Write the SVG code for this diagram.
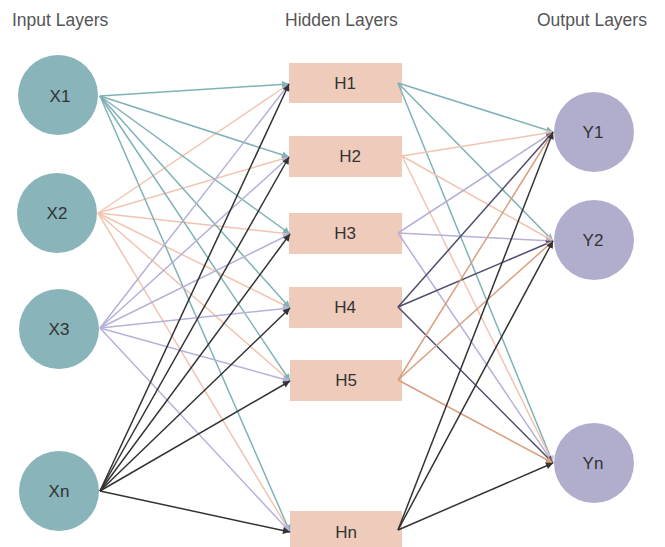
<svg xmlns="http://www.w3.org/2000/svg" width="665" height="547" viewBox="0 0 665 547">
<style>
.hdr{font-family:"Liberation Sans",Arial,sans-serif;font-size:17.5px;fill:#555}
.lbl{font-family:"Liberation Sans",Arial,sans-serif;font-size:17px;fill:#333;text-anchor:middle;dominant-baseline:central}
.in{fill:#88b4ba}
.out{fill:#b1aecd}
.hid{fill:#efcbbb}
line{stroke-width:1.5;fill:none}
.teal{stroke:#7fb2b6;marker-end:url(#a-teal)}
.sal{stroke:#f2c4b0;marker-end:url(#a-sal)}
.lav{stroke:#b5b1d9;marker-end:url(#a-lav)}
.dark{stroke:#333;marker-end:url(#a-dark)}
.navy{stroke:#4f4d6e;marker-end:url(#a-navy)}
.org{stroke:#d9a07f;marker-end:url(#a-org)}
</style>
<defs>
<marker id="a-teal" viewBox="0 0 10 10" refX="10" refY="5" markerWidth="8" markerHeight="7" markerUnits="userSpaceOnUse" orient="auto"><path d="M0,0 L10,5 L0,10 z" fill="#7fb2b6"/></marker>
<marker id="a-sal" viewBox="0 0 10 10" refX="10" refY="5" markerWidth="8" markerHeight="7" markerUnits="userSpaceOnUse" orient="auto"><path d="M0,0 L10,5 L0,10 z" fill="#f2c4b0"/></marker>
<marker id="a-lav" viewBox="0 0 10 10" refX="10" refY="5" markerWidth="8" markerHeight="7" markerUnits="userSpaceOnUse" orient="auto"><path d="M0,0 L10,5 L0,10 z" fill="#b5b1d9"/></marker>
<marker id="a-dark" viewBox="0 0 10 10" refX="10" refY="5" markerWidth="8" markerHeight="7" markerUnits="userSpaceOnUse" orient="auto"><path d="M0,0 L10,5 L0,10 z" fill="#333"/></marker>
<marker id="a-navy" viewBox="0 0 10 10" refX="10" refY="5" markerWidth="8" markerHeight="7" markerUnits="userSpaceOnUse" orient="auto"><path d="M0,0 L10,5 L0,10 z" fill="#4f4d6e"/></marker>
<marker id="a-org" viewBox="0 0 10 10" refX="10" refY="5" markerWidth="8" markerHeight="7" markerUnits="userSpaceOnUse" orient="auto"><path d="M0,0 L10,5 L0,10 z" fill="#d9a07f"/></marker>
</defs>
<rect width="665" height="547" fill="#fff"/>
<g id="headers">
<text class="hdr" x="12" y="26">Input Layers</text>
<text class="hdr" x="285" y="26">Hidden Layers</text>
<text class="hdr" x="537" y="26">Output Layers</text>
</g>
<g id="input-nodes">
<g id="X1"><circle class="in" cx="58" cy="95" r="40"/><text class="lbl" x="60" y="96">X1</text></g>
<g id="X2"><circle class="in" cx="57" cy="213" r="40"/><text class="lbl" x="57" y="213">X2</text></g>
<g id="X3"><circle class="in" cx="59" cy="329" r="40"/><text class="lbl" x="59" y="329">X3</text></g>
<g id="Xn"><circle class="in" cx="59" cy="491" r="40"/><text class="lbl" x="59" y="491">Xn</text></g>
</g>
<g id="hidden-nodes">
<g id="H1"><rect class="hid" x="289" y="63" width="113" height="40"/><text class="lbl" x="345" y="83">H1</text></g>
<g id="H2"><rect class="hid" x="289" y="136" width="113" height="41"/><text class="lbl" x="350" y="156">H2</text></g>
<g id="H3"><rect class="hid" x="289" y="213" width="113" height="41"/><text class="lbl" x="345" y="233">H3</text></g>
<g id="H4"><rect class="hid" x="289" y="287" width="113" height="41"/><text class="lbl" x="345" y="307">H4</text></g>
<g id="H5"><rect class="hid" x="290" y="360" width="112" height="41"/><text class="lbl" x="346" y="380">H5</text></g>
<g id="Hn"><rect class="hid" x="290" y="511" width="112" height="40"/><text class="lbl" x="346" y="532">Hn</text></g>
</g>
<g id="output-nodes">
<g id="Y1"><circle class="out" cx="594" cy="132" r="40"/><text class="lbl" x="593" y="132">Y1</text></g>
<g id="Y2"><circle class="out" cx="594" cy="240" r="40"/><text class="lbl" x="593" y="240">Y2</text></g>
<g id="Yn"><circle class="out" cx="594" cy="463" r="40"/><text class="lbl" x="593" y="463">Yn</text></g>
</g>
<g id="connectors">
<line class="sal" x1="98" y1="213" x2="289" y2="84"/>
<line class="sal" x1="98" y1="213" x2="289" y2="157"/>
<line class="sal" x1="98" y1="213" x2="290" y2="234"/>
<line class="sal" x1="98" y1="213" x2="290" y2="308"/>
<line class="sal" x1="98" y1="213" x2="290" y2="381"/>
<line class="sal" x1="98" y1="213" x2="290" y2="532"/>
<line class="teal" x1="100" y1="96" x2="289" y2="84"/>
<line class="teal" x1="100" y1="96" x2="289" y2="157"/>
<line class="teal" x1="100" y1="96" x2="290" y2="234"/>
<line class="teal" x1="100" y1="96" x2="290" y2="308"/>
<line class="teal" x1="100" y1="96" x2="290" y2="381"/>
<line class="teal" x1="100" y1="96" x2="290" y2="532"/>
<line class="lav" x1="100" y1="328" x2="289" y2="84"/>
<line class="lav" x1="100" y1="328" x2="289" y2="157"/>
<line class="lav" x1="100" y1="328" x2="290" y2="234"/>
<line class="lav" x1="100" y1="328" x2="290" y2="308"/>
<line class="lav" x1="100" y1="328" x2="290" y2="381"/>
<line class="lav" x1="100" y1="328" x2="290" y2="532"/>
<line class="dark" x1="100" y1="491" x2="289" y2="84"/>
<line class="dark" x1="100" y1="491" x2="289" y2="157"/>
<line class="dark" x1="100" y1="491" x2="290" y2="234"/>
<line class="dark" x1="100" y1="491" x2="290" y2="308"/>
<line class="dark" x1="100" y1="491" x2="290" y2="381"/>
<line class="dark" x1="100" y1="491" x2="290" y2="532"/>
<line class="teal" x1="398" y1="83" x2="553" y2="132"/>
<line class="teal" x1="398" y1="83" x2="553" y2="241"/>
<line class="teal" x1="398" y1="83" x2="553" y2="463"/>
<line class="sal" x1="402" y1="156" x2="553" y2="132"/>
<line class="sal" x1="402" y1="156" x2="553" y2="241"/>
<line class="sal" x1="402" y1="156" x2="553" y2="463"/>
<line class="lav" x1="398" y1="233" x2="553" y2="132"/>
<line class="lav" x1="398" y1="233" x2="553" y2="241"/>
<line class="lav" x1="398" y1="233" x2="553" y2="463"/>
<line class="navy" x1="398" y1="307" x2="553" y2="132"/>
<line class="navy" x1="398" y1="307" x2="553" y2="241"/>
<line class="navy" x1="398" y1="307" x2="553" y2="463"/>
<line class="org" x1="398" y1="380" x2="553" y2="132"/>
<line class="org" x1="398" y1="380" x2="553" y2="241"/>
<line class="org" x1="398" y1="380" x2="553" y2="463"/>
<line class="dark" x1="398" y1="530" x2="553" y2="132"/>
<line class="dark" x1="398" y1="530" x2="553" y2="241"/>
<line class="dark" x1="398" y1="530" x2="553" y2="463"/>
</g>
</svg>
